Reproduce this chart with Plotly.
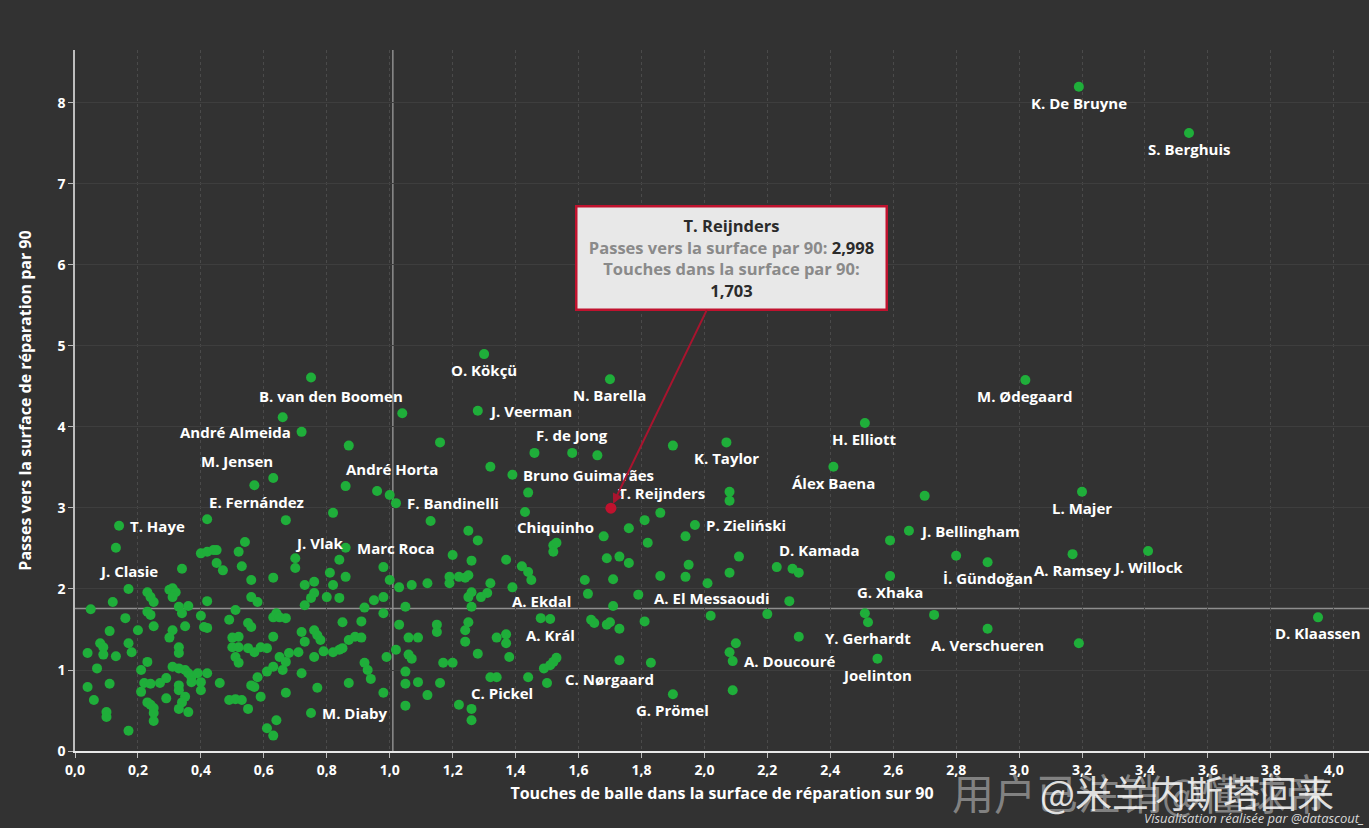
import plotly.graph_objects as go

# --- data (touches in box per 90, passes into box per 90) ---
avg_touches = 1.01
avg_passes = 1.76

highlight_name = "T. Reijnders"
highlight_x = 1.703
highlight_y = 2.998

labeled_names = [
    "K. De Bruyne", "S. Berghuis", "M. Ødegaard", "O. Kökçü", "N. Barella",
    "B. van den Boomen", "J. Veerman", "André Almeida", "F. de Jong", "K. Taylor",
    "H. Elliott", "M. Jensen", "André Horta", "Bruno Guimarães", "Álex Baena",
    "F. Bandinelli", "E. Fernández", "L. Majer", "T. Haye", "Chiquinho",
    "P. Zieliński", "J. Bellingham", "J. Vlak", "Marc Roca", "D. Kamada",
    "J. Clasie", "İ. Gündoğan", "A. Ramsey", "J. Willock", "G. Xhaka",
    "A. Ekdal", "A. El Messaoudi", "D. Klaassen", "A. Král", "Y. Gerhardt",
    "A. Verschueren", "A. Doucouré", "Joelinton", "C. Nørgaard", "C. Pickel",
    "G. Prömel", "M. Diaby",
]
labeled_x = [
    3.19, 3.54, 3.02, 1.30, 1.70,
    0.75, 1.28, 0.72, 1.58, 2.07,
    2.51, 0.57, 1.00, 1.39, 2.41,
    1.02, 0.42, 3.20, 0.14, 1.68,
    1.97, 2.65, 0.70, 0.86, 2.23,
    0.17, 2.90, 3.17, 3.41, 2.59,
    1.45, 1.79, 3.95, 1.51, 2.52,
    2.90, 2.09, 2.55, 1.50, 1.26,
    1.90, 0.75,
]
labeled_y = [
    8.20, 7.63, 4.58, 4.90, 4.59,
    4.61, 4.20, 3.94, 3.68, 3.81,
    4.05, 3.28, 3.16, 3.41, 3.51,
    3.06, 2.86, 3.20, 2.78, 2.65,
    2.79, 2.72, 2.38, 2.51, 2.27,
    2.00, 2.33, 2.43, 2.47, 2.16,
    2.11, 1.93, 1.65, 1.63, 1.59,
    1.51, 1.11, 1.14, 0.84, 0.52,
    0.70, 0.47,
]

# unlabeled players, grouped by area of the chart
low_touches = [
    (0.13, 2.51), (0.34, 2.25), (0.05, 1.75), (0.12, 1.84), (0.16, 1.64), (0.11, 1.48),
    (0.20, 1.49), (0.04, 1.21), (0.08, 1.33), (0.09, 1.28), (0.09, 1.19), (0.13, 1.17),
    (0.17, 1.33), (0.18, 1.22), (0.07, 1.02), (0.04, 0.79), (0.06, 0.63), (0.10, 0.48),
    (0.10, 0.42), (0.11, 0.83), (0.17, 0.25), (0.21, 1.00), (0.23, 1.10), (0.21, 0.73),
    (0.22, 0.84), (0.24, 0.83), (0.23, 0.60), (0.24, 0.57), (0.25, 0.53), (0.25, 0.47),
    (0.25, 0.37), (0.23, 1.96), (0.24, 1.90), (0.25, 1.84), (0.23, 1.72), (0.24, 1.68),
    (0.25, 1.54), (0.30, 1.99), (0.31, 2.01), (0.32, 1.96), (0.31, 1.90), (0.40, 1.67),
    (0.41, 1.53), (0.42, 1.52), (0.31, 1.49), (0.30, 1.40), (0.33, 1.78), (0.34, 1.70),
    (0.36, 1.79), (0.35, 1.54), (0.33, 1.28), (0.33, 1.21), (0.31, 1.04), (0.33, 1.02),
    (0.35, 1.00), (0.36, 0.96), (0.37, 0.91), (0.39, 0.96), (0.42, 0.96), (0.37, 0.85),
    (0.27, 0.84), (0.29, 0.90), (0.29, 0.65), (0.33, 0.81), (0.33, 0.75), (0.35, 0.67),
    (0.34, 0.60), (0.33, 0.52), (0.36, 0.48), (0.40, 0.85), (0.40, 0.75), (0.42, 1.85),
    (0.46, 0.84), (0.40, 2.44), (0.42, 2.46), (0.44, 2.48), (0.45, 2.48), (0.45, 2.32),
    (0.47, 2.23), (0.49, 1.62), (0.51, 1.74), (0.50, 1.40), (0.52, 1.41), (0.50, 1.28),
    (0.52, 1.28), (0.55, 1.27), (0.57, 1.22), (0.51, 1.16), (0.52, 1.09), (0.54, 2.58),
    (0.52, 2.46), (0.53, 2.28), (0.56, 2.11), (0.63, 2.14), (0.56, 1.90), (0.58, 1.84),
    (0.55, 1.58), (0.56, 1.53), (0.49, 0.63), (0.51, 0.64), (0.53, 0.63), (0.55, 0.52),
    (0.59, 0.67), (0.56, 0.81), (0.57, 0.79), (0.58, 0.91), (0.61, 0.98), (0.63, 1.04),
    (0.61, 0.28), (0.63, 0.19), (0.64, 0.38), (0.67, 0.72), (0.65, 1.16), (0.68, 1.21),
    (0.67, 1.10), (0.66, 1.00), (0.63, 1.65), (0.64, 1.70), (0.65, 1.65), (0.67, 1.64),
    (0.59, 1.28), (0.61, 1.27), (0.63, 1.41), (0.67, 2.85), (0.70, 2.26), (0.73, 2.05),
    (0.76, 2.09), (0.76, 1.95), (0.75, 1.89), (0.73, 1.80), (0.81, 2.20), (0.82, 2.05),
    (0.80, 1.90), (0.84, 1.89), (0.84, 2.36), (0.86, 2.15), (0.82, 2.94), (0.85, 1.59),
    (0.72, 1.47), (0.73, 1.35), (0.76, 1.49), (0.77, 1.43), (0.78, 1.37), (0.71, 1.22),
    (0.76, 1.16), (0.79, 1.23), (0.82, 1.22), (0.84, 1.25), (0.85, 1.27), (0.72, 0.96),
    (0.77, 0.78), (0.87, 0.84), (0.87, 1.37), (0.89, 1.41), (0.91, 1.40), (0.91, 1.60),
    (0.92, 1.77), (0.92, 1.09), (0.93, 1.00), (0.94, 0.89), (0.95, 1.86),
]
upper_left = [
    (0.66, 4.12), (0.87, 3.77), (1.04, 4.17), (1.16, 3.81), (1.32, 3.51), (1.46, 3.68),
    (1.44, 3.19), (0.63, 3.37), (0.86, 3.27), (0.96, 3.21), (1.66, 3.65), (1.90, 3.77),
    (2.08, 3.20), (2.08, 3.09),
]
middle = [
    (1.13, 2.84), (1.25, 2.72), (1.28, 2.60), (1.20, 2.42), (1.26, 2.35), (1.19, 2.15),
    (1.19, 2.07), (1.22, 2.15), (1.24, 2.14), (1.25, 2.17), (1.12, 2.07), (1.07, 2.05),
    (1.03, 2.02), (0.98, 2.27), (1.00, 2.11), (1.25, 1.90), (1.26, 1.96), (1.29, 1.90),
    (1.31, 1.95), (1.32, 2.07), (1.26, 1.78), (1.37, 2.36), (1.39, 2.02), (1.42, 2.28),
    (1.44, 2.21), (1.43, 2.95), (1.52, 2.54), (1.53, 2.57), (1.52, 2.46), (1.62, 2.11),
    (1.63, 1.94), (1.69, 2.38), (1.73, 2.40), (1.76, 2.32), (1.71, 2.12), (1.71, 1.79),
    (1.76, 2.75), (1.81, 2.85), (1.86, 2.94), (1.82, 2.57), (1.86, 2.16), (1.94, 2.65),
    (1.95, 2.30), (1.94, 2.15), (2.01, 2.07), (2.08, 2.20), (2.11, 2.40), (2.20, 1.69),
    (2.02, 1.67), (1.81, 1.60), (1.64, 1.62), (1.65, 1.58), (1.69, 1.56), (1.70, 1.59),
    (1.73, 1.51), (1.48, 1.64), (2.10, 1.33), (2.08, 1.22), (1.73, 1.12), (1.83, 1.09),
    (2.09, 0.75), (1.44, 0.91), (1.49, 1.02), (1.51, 1.06), (1.52, 1.10), (1.53, 1.15),
    (1.32, 0.91), (1.34, 0.91), (1.38, 1.16), (1.34, 1.40), (1.37, 1.44), (1.37, 1.33),
    (1.28, 1.20), (1.24, 1.35), (1.24, 1.49), (1.25, 1.59), (1.15, 1.56), (1.15, 1.47),
    (1.06, 1.40), (1.09, 1.40), (0.99, 1.16), (1.02, 1.25), (1.06, 1.19), (1.07, 1.14),
    (1.17, 1.09), (1.20, 1.09), (1.05, 0.98), (1.05, 0.83), (1.09, 0.85), (1.12, 0.69),
    (1.16, 0.84), (1.05, 0.56), (0.98, 0.72), (1.22, 0.57), (1.26, 0.38), (1.03, 1.56),
    (1.05, 1.78), (0.98, 1.70), (0.98, 1.90),
]
high_touches = [
    (2.70, 3.15), (2.59, 2.60), (2.80, 2.41), (2.28, 2.25), (2.30, 2.20), (2.27, 1.85),
    (2.51, 1.70), (2.73, 1.68), (3.19, 1.33), (2.30, 1.41),
]

# --- styling ---
BG = "#323232"
GREEN = "#1fae3a"
RED = "#c0122e"
FONT = "'Open Sans', Roboto, sans-serif"

# label placement: (xanchor, xshift, yshift) in px; default is below the dot
below = ("center", 0, -16)
right = ("left", 9, 0)
label_pos = {
    "B. van den Boomen": ("center", 20, -18),
    "J. Veerman": right,
    "André Almeida": ("right", -9, 0),
    "F. de Jong": ("center", 0, 18),
    "M. Jensen": ("center", -17, 24),
    "André Horta": ("center", 2, 26),
    "Bruno Guimarães": right,
    "F. Bandinelli": right,
    "E. Fernández": ("left", 0, 17),
    "T. Haye": right,
    "Chiquinho": ("right", -8, 9),
    "P. Zieliński": right,
    "J. Bellingham": right,
    "J. Vlak": ("left", -2, 15),
    "Marc Roca": right,
    "D. Kamada": ("left", 0, 17),
    "J. Clasie": ("center", 0, 18),
    "A. Ekdal": ("center", 10, -21),
    "A. El Messaoudi": ("left", 14, -3),
    "A. Doucouré": right,
    "C. Nørgaard": ("left", 16, 4),
    "C. Pickel": ("left", -3, 16),
    "M. Diaby": right,
}

others = low_touches + upper_left + middle + high_touches

fig = go.Figure()
fig.add_trace(go.Scatter(
    x=[p[0] for p in others], y=[p[1] for p in others],
    mode="markers", marker=dict(size=10, color=GREEN), hoverinfo="skip", showlegend=False,
))
fig.add_trace(go.Scatter(
    x=labeled_x, y=labeled_y, text=labeled_names,
    mode="markers", marker=dict(size=10, color=GREEN), hoverinfo="text", showlegend=False,
))
fig.add_trace(go.Scatter(
    x=[highlight_x], y=[highlight_y],
    mode="markers", marker=dict(size=11, color=RED), hoverinfo="skip", showlegend=False,
))

label_font = dict(family=FONT, size=15, color="white", weight="bold")
for name, x, y in zip(labeled_names, labeled_x, labeled_y):
    anchor, dx, dy = label_pos.get(name, below)
    fig.add_annotation(x=x, y=y, text=name, showarrow=False, font=label_font,
                       xanchor=anchor, yanchor="middle", xshift=dx, yshift=dy)
fig.add_annotation(x=highlight_x, y=highlight_y, text=highlight_name, showarrow=False,
                   font=label_font, xanchor="left", yanchor="middle", xshift=5, yshift=15)


def fr(v):
    return f"{v:.3f}".replace(".", ",")


tooltip = (
    f"<b>{highlight_name}</b><br>"
    f"<span style='color:#8a8a8a'>Passes vers la surface par 90:</span> {fr(highlight_y)}<br>"
    f"<span style='color:#8a8a8a'>Touches dans la surface par 90:</span><br>{fr(highlight_x)}"
)
fig.add_annotation(
    x=highlight_x, y=highlight_y, text=tooltip, showarrow=True,
    ax=121, ay=-250, arrowhead=2, arrowsize=1, arrowwidth=2, arrowcolor="#a8142e", standoff=5,
    bgcolor="#e8e8e8", bordercolor=RED, borderwidth=2.5, borderpad=4,
    width=300, height=93, align="center",
    font=dict(family=FONT, size=16.5, color="#2b2b2b", weight="bold"),
)

# average reference lines
fig.add_shape(type="line", xref="x", yref="paper", x0=avg_touches, x1=avg_touches, y0=0, y1=1,
              line=dict(color="#8e8e8e", width=1.5), layer="below")
fig.add_shape(type="line", xref="paper", yref="y", x0=0, x1=1, y0=avg_passes, y1=avg_passes,
              line=dict(color="#8e8e8e", width=1.5), layer="below")

# watermarks / credit
fig.add_annotation(xref="paper", yref="paper", x=0.676, y=-0.058, xanchor="left", yanchor="middle",
                   text="用户已注销@懂球帝", showarrow=False,
                   font=dict(family="Noto Sans CJK SC", size=42, color="rgba(200,200,200,0.55)"))
fig.add_annotation(xref="paper", yref="paper", x=0.744, y=-0.058, xanchor="left", yanchor="middle",
                   text="@米兰内斯塔回来", showarrow=False,
                   font=dict(family="Noto Sans CJK SC", size=37, color="rgba(255,255,255,0.85)"))
fig.add_annotation(xref="paper", yref="paper", x=1, y=-0.096, xanchor="right", yanchor="middle",
                   xshift=-3, text="Visualisation réalisée par @datascout_", showarrow=False,
                   font=dict(family=FONT, size=13, color="#d8d8d8", style="italic"))

tick_font = dict(family=FONT, size=14, color="white", weight="bold")
fig.update_layout(
    width=1369, height=828,
    paper_bgcolor=BG, plot_bgcolor=BG,
    margin=dict(l=75, r=0, t=50, b=77),
    separators=",.",
    font=dict(family=FONT, color="white"),
    xaxis=dict(
        range=[0, 4.112], tick0=0, dtick=0.2, tickformat=".1f",
        showgrid=True, gridcolor="#4a4a4a", griddash="dot", gridwidth=1,
        zeroline=False, showline=True, linecolor="#e8e8e8", linewidth=1.5,
        ticks="outside", ticklen=5, tickcolor="#bbbbbb", tickfont=tick_font,
        title=dict(text="Touches de balle dans la surface de réparation sur 90",
                   font=dict(family=FONT, size=16, color="white", weight="bold"), standoff=10),
    ),
    yaxis=dict(
        range=[0, 8.654], tick0=0, dtick=1,
        showgrid=True, gridcolor="#3e3e3e", gridwidth=1,
        zeroline=False, showline=True, linecolor="#bdbdbd", linewidth=1.5,
        ticks="outside", ticklen=5, tickcolor="#bbbbbb", tickfont=tick_font,
        title=dict(text="Passes vers la surface de réparation par 90",
                   font=dict(family=FONT, size=16, color="white", weight="bold"), standoff=22),
    ),
)

fig.write_html(
    "out.html",
    config={"displayModeBar": False},
    post_script="document.body.style.margin='0';document.body.style.background='%s';" % BG,
)
